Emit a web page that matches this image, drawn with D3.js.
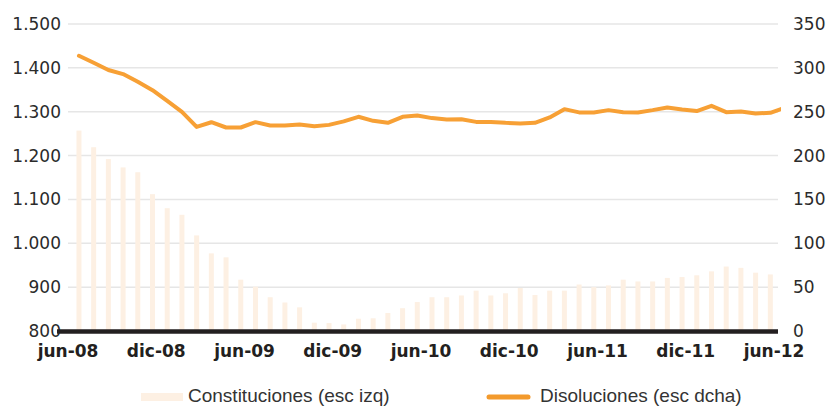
<!DOCTYPE html>
<html>
<head>
<meta charset="utf-8">
<script src="https://cdn.jsdelivr.net/npm/d3@7"></script>
<style>
  body { margin: 0; background: #fff; }
  svg { display: block; }
</style>
</head>
<body>
<script>
const m = {
    width: 839,
    height: 406
}

// months jun-08 .. jun-12
const months = ['jun-08','jul-08','ago-08','sep-08','oct-08','nov-08','dic-08','ene-09','feb-09','mar-09','abr-09','may-09',
    'jun-09','jul-09','ago-09','sep-09','oct-09','nov-09','dic-09','ene-10','feb-10','mar-10','abr-10','may-10',
    'jun-10','jul-10','ago-10','sep-10','oct-10','nov-10','dic-10','ene-11','feb-11','mar-11','abr-11','may-11',
    'jun-11','jul-11','ago-11','sep-11','oct-11','nov-11','dic-11','ene-12','feb-12','mar-12','abr-12','may-12','jun-12']

// Constituciones (esc izq) - no bar for the last month
const constituciones = [1257,1219,1192,1173,1162,1112,1080,1065,1018,977,968,917,
    901,877,865,854,819,818,815,828,829,841,852,866,
    877,877,881,892,881,886,898,882,892,892,906,900,
    904,917,913,913,921,923,927,936,947,944,933,929]

// Disoluciones (esc dcha)
const disoluciones = [313.8,305.8,297.5,292.9,284.1,274.6,262.4,249.9,232.7,238,232,232,
    238.1,234.3,234.3,235.5,233.5,235,239,244.2,239.6,237.3,244.2,245.7,
    242.7,241.2,241.5,238.4,238.4,237.3,236.6,237.3,243.5,252.9,249.2,249.2,
    251.8,249.5,249.2,251.8,254.9,252.6,250.7,256.7,249.5,250.3,248,248.7,254.6]

const tickLabels = ['jun-08','dic-08','jun-09','dic-09','jun-10','dic-10','jun-11','dic-11','jun-12']
const leftTicks = [800,900,1000,1100,1200,1300,1400,1500]
const rightTicks = [0,50,100,150,200,250,300,350]

const es = d3.formatLocale({decimal: ',', thousands: '.', grouping: [3], currency: ['', '€']})
const fmt = es.format(',')

const svg = d3.select('body').append('svg')
    .attr('width', m.width)
    .attr('height', m.height)

const plot = { left: 68, right: 778, top: 24, bottom: 331 }

const x = d3.scaleBand()
    .domain(months)
    .range([71.6, 71.6 + months.length * 14.71])
    .paddingInner(0.66)
    .paddingOuter(0.33)

const xLab = d3.scalePoint()
    .domain(tickLabels)
    .range([67.5, 773.5])

const yL = d3.scaleLinear().domain([800, 1500]).range([plot.bottom, plot.top])
const yR = d3.scaleLinear().domain([0, 350]).range([plot.bottom, plot.top])

// gridlines
svg.append('g')
    .selectAll('line')
    .data(leftTicks.slice(1))
    .enter()
    .append('line')
        .attr('x1', plot.left)
        .attr('x2', plot.right)
        .attr('y1', d => yL(d))
        .attr('y2', d => yL(d))
        .attr('stroke', '#e6e6e6')
        .attr('stroke-width', 1.5)

// bars
svg.append('g')
    .selectAll('rect')
    .data(constituciones)
    .enter()
    .append('rect')
        .attr('x', (d, i) => x(months[i]))
        .attr('width', x.bandwidth())
        .attr('y', d => yL(d))
        .attr('height', d => yL(800) - yL(d))
        .attr('fill', '#fdf0e3')

// line, clipped at plot edge
svg.append('clipPath').attr('id', 'clip')
    .append('rect')
        .attr('x', 0).attr('y', 0)
        .attr('width', 781).attr('height', m.height)

const line = d3.line()
    .x((d, i) => x(months[i]) + x.bandwidth() / 2)
    .y(d => yR(d))

svg.append('path')
    .datum(disoluciones)
    .attr('clip-path', 'url(#clip)')
    .attr('d', line)
    .attr('fill', 'none')
    .attr('stroke', '#f7a035')
    .attr('stroke-width', 4)
    .attr('stroke-linejoin', 'round')
    .attr('stroke-linecap', 'round')

// left axis
const axL = svg.append('g')
    .attr('transform', 'translate(61,0)')
    .call(d3.axisLeft(yL).tickValues(leftTicks).tickFormat(fmt).tickSize(0).tickPadding(0))
axL.select('.domain').remove()
axL.selectAll('text')
    .attr('font-family', 'DejaVu Sans')
    .attr('font-size', 17)
    .attr('fill', '#2b2b2b')

// right axis
const axR = svg.append('g')
    .attr('transform', 'translate(793,0)')
    .call(d3.axisRight(yR).tickValues(rightTicks).tickSize(0).tickPadding(0))
axR.select('.domain').remove()
axR.selectAll('text')
    .attr('font-family', 'DejaVu Sans')
    .attr('font-size', 17)
    .attr('fill', '#2b2b2b')

// baseline
svg.append('line')
    .attr('x1', 57)
    .attr('x2', plot.right)
    .attr('y1', yL(800) + 0.5)
    .attr('y2', yL(800) + 0.5)
    .attr('stroke', '#231f20')
    .attr('stroke-width', 4.5)

// bottom labels
const axB = svg.append('g')
    .attr('transform', 'translate(0,' + (plot.bottom + 14) + ')')
    .call(d3.axisBottom(xLab).tickSize(0).tickPadding(0))
axB.select('.domain').remove()
axB.selectAll('text')
    .attr('font-family', 'DejaVu Sans')
    .attr('font-weight', 'bold')
    .attr('font-size', 17)
    .attr('fill', '#231f20')

// legend
const leg = svg.append('g')
    .attr('font-family', 'Liberation Sans')
    .attr('font-size', 19)
    .attr('fill', '#333')

leg.append('rect')
    .attr('x', 141).attr('y', 393)
    .attr('width', 42).attr('height', 8)
    .attr('fill', '#fdf0e3')
leg.append('text')
    .attr('x', 188).attr('y', 401.5)
    .text('Constituciones (esc izq)')

leg.append('line')
    .attr('x1', 489).attr('x2', 528)
    .attr('y1', 397).attr('y2', 397)
    .attr('stroke', '#f39a2c')
    .attr('stroke-width', 5)
    .attr('stroke-linecap', 'round')
leg.append('text')
    .attr('x', 540).attr('y', 401.5)
    .text('Disoluciones (esc dcha)')
</script>
</body>
</html>
